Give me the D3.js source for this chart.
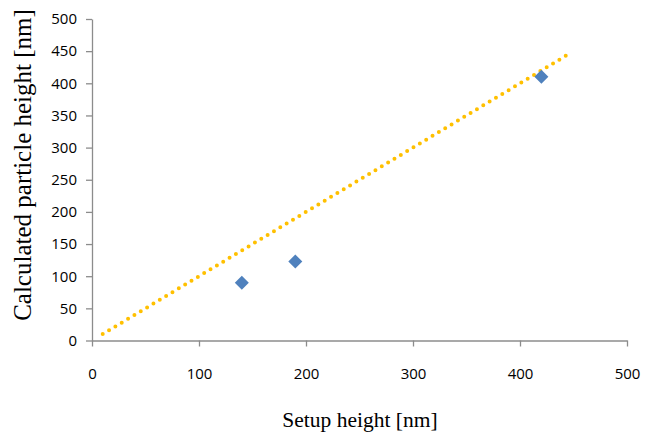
<!DOCTYPE html>
<html>
<head>
<meta charset="utf-8">
<script src="https://cdn.jsdelivr.net/npm/d3@7"></script>
<style>
  body { margin: 0; background: #fff; }
  .tick text { font-family: "Open Sans", "Liberation Sans", sans-serif; font-size: 15px; fill: #000; }
  .title { font-family: "Liberation Serif", serif; fill: #000; }
</style>
</head>
<body>
<div class="display"></div>
<script>
const WIDTH = 656;
const HEIGHT = 435;

// Measured points
const setupHeights = [140, 190, 420];
const calcHeights = [90, 123, 410];

// Ideal line (y = x)
const lineX = [10, 445];
const lineY = [10, 445];

const xTicks = [0, 100, 200, 300, 400, 500];
const yTicks = [0, 50, 100, 150, 200, 250, 300, 350, 400, 450, 500];

const svg = d3.select('.display')
  .append('svg')
  .attr('width', WIDTH)
  .attr('height', HEIGHT);

const x = d3.scaleLinear().domain([0, 500]).range([92, 627]);
const y = d3.scaleLinear().domain([0, 500]).range([340.5, 19]);

// y axis
const yAxis = svg.append('g')
  .attr('transform', 'translate(92,0)')
  .call(d3.axisLeft(y).tickValues(yTicks).tickSize(6).tickPadding(9).tickSizeOuter(0));

// x axis
const xAxis = svg.append('g')
  .attr('transform', 'translate(0,340.5)')
  .call(d3.axisBottom(x).tickValues(xTicks).tickSize(6).tickPadding(22).tickSizeOuter(0));

[xAxis, yAxis].forEach(a => {
  a.select('.domain').attr('stroke', '#8c8c8c').attr('stroke-width', 1.3);
  a.selectAll('.tick line').attr('stroke', '#8c8c8c').attr('stroke-width', 1.3);
});

// Dotted trend line
const line = d3.line().x(d => x(d[0])).y(d => y(d[1]));
svg.append('path')
  .attr('d', line(lineX.map((d, i) => [d, lineY[i]])))
  .attr('fill', 'none')
  .attr('stroke', '#ffc000')
  .attr('stroke-width', 4)
  .attr('stroke-linecap', 'round')
  .attr('stroke-dasharray', '0 7.4');

// Diamond markers
svg.selectAll('.marker')
  .data(setupHeights)
  .enter()
  .append('path')
  .attr('class', 'marker')
  .attr('d', d3.symbol().type(d3.symbolDiamond2).size(125))
  .attr('transform', (d, i) => `translate(${x(d)},${y(calcHeights[i])})`)
  .attr('fill', '#4f81bd');

// Axis titles
svg.append('text')
  .attr('class', 'title')
  .attr('x', 360)
  .attr('y', 427)
  .attr('font-size', 21.5)
  .attr('text-anchor', 'middle')
  .text('Setup height [nm]');

svg.append('text')
  .attr('class', 'title')
  .attr('font-size', 25)
  .attr('transform', 'translate(31,165) rotate(-90)')
  .attr('text-anchor', 'middle')
  .text('Calculated particle height [nm]');
</script>
</body>
</html>
